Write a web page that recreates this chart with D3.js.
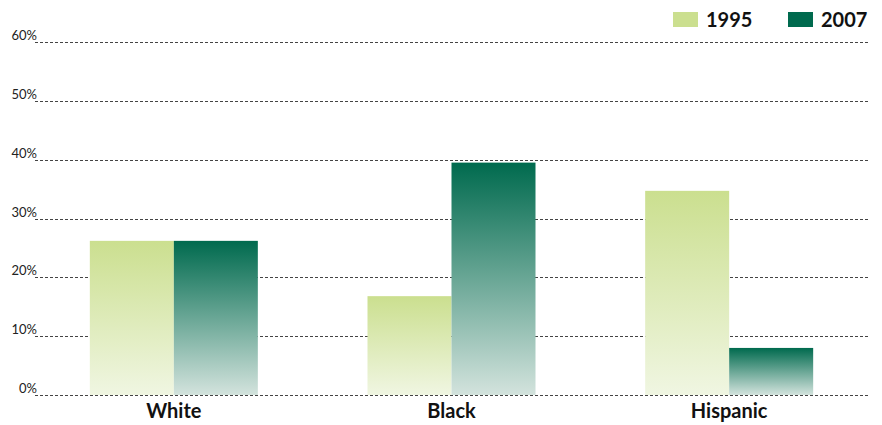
<!DOCTYPE html>
<html><head><meta charset="utf-8">
<script src="https://cdn.jsdelivr.net/npm/d3@7"></script>
<style>body{margin:0;background:#fff}svg{display:block}</style>
</head><body>
<script>
const categories = ["White", "Black", "Hispanic"];
const seriesNames = ["1995", "2007"];
const values1995 = [26.2, 16.8, 34.7];
const values2007 = [26.2, 39.5, 8.0];
const tickValues = [0, 10, 20, 30, 40, 50, 60];
const tickLabels = ["0%", "10%", "20%", "30%", "40%", "50%", "60%"];

const W = 882, H = 425;
const svg = d3.select("body").append("svg").attr("width", W).attr("height", H);
const defs = svg.append("defs");
const g1 = defs.append("linearGradient").attr("id", "g1995").attr("x1", 0).attr("y1", 0).attr("x2", 0).attr("y2", 1);
g1.append("stop").attr("offset", "0%").attr("stop-color", "#cbdf8f");
g1.append("stop").attr("offset", "100%").attr("stop-color", "#f0f6e2");
const g2 = defs.append("linearGradient").attr("id", "g2007").attr("x1", 0).attr("y1", 0).attr("x2", 0).attr("y2", 1);
g2.append("stop").attr("offset", "0%").attr("stop-color", "#006a4e");
g2.append("stop").attr("offset", "100%").attr("stop-color", "#d3e3dd");

const mLeft = 35, mRight = 868, mTop = 42, mBottom = 395;
const y = d3.scaleLinear().domain([0, 60]).range([mBottom, mTop]);
const x = d3.scaleBand().domain(categories).range([mLeft, mRight]).padding(0);
const xs = d3.scaleBand().domain(seriesNames).range([-84, 84]).padding(0);

// gridlines
const grid = svg.append("g");
grid.selectAll("line").data(tickValues).join("line")
  .attr("x1", mLeft).attr("x2", mRight)
  .attr("y1", d => Math.round(y(d)) + 0.5).attr("y2", d => Math.round(y(d)) + 0.5)
  .attr("stroke", "#444").attr("stroke-width", 1).attr("stroke-dasharray", "3,2");
grid.selectAll("text").data(tickValues).join("text")
  .attr("x", 37).attr("y", d => y(d) - 2)
  .attr("text-anchor", "end")
  .attr("font-family", "Lato, 'Noto Sans', sans-serif")
  .attr("font-size", 13).attr("fill", "#222")
  .text((d, i) => tickLabels[i]);

// bars
const data = categories.map((c, i) => ({cat: c, vals: [values1995[i], values2007[i]]}));
const groups = svg.append("g").selectAll("g").data(data).join("g")
  .attr("transform", d => `translate(${x(d.cat) + x.bandwidth() / 2},0)`);
groups.selectAll("rect").data(d => d.vals.map((v, j) => ({s: seriesNames[j], v})))
  .join("rect")
  .attr("x", d => xs(d.s)).attr("width", xs.bandwidth())
  .attr("y", d => y(d.v)).attr("height", d => y(0) - y(d.v))
  .attr("fill", d => `url(#g${d.s})`);

// category labels
svg.append("g").selectAll("text").data(categories).join("text")
  .attr("x", d => x(d) + x.bandwidth() / 2).attr("y", 418)
  .attr("text-anchor", "middle")
  .attr("font-family", "Lato, sans-serif").attr("font-weight", "bold")
  .attr("font-size", 20).attr("fill", "#111")
  .text(d => d);

// legend
const legColors = ["#cbdf8f", "#006a4e"];
const legX = [673, 788];
const leg = svg.append("g").selectAll("g").data(seriesNames).join("g")
  .attr("transform", (d, i) => `translate(${legX[i]},12)`);
leg.append("rect").attr("width", 25).attr("height", 15).attr("fill", (d, i) => legColors[i]);
leg.append("text").attr("x", 33).attr("y", 15)
  .attr("font-family", "Lato, sans-serif").attr("font-weight", "bold")
  .attr("font-size", 20).attr("fill", "#111").text(d => d);
</script>
</body></html>
